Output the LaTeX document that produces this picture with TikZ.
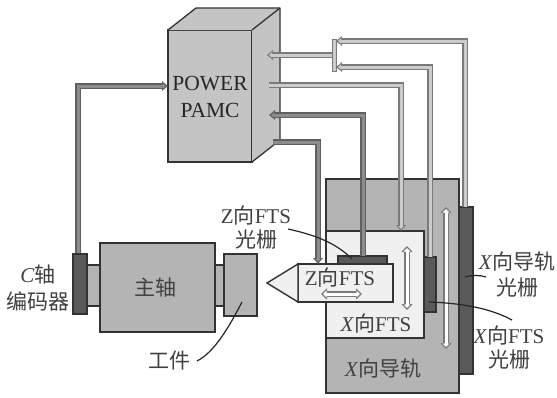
\documentclass[tikz,border=0pt]{standalone}
\usepackage{fontspec}
\setmainfont{Liberation Serif}
\newfontfamily\cjk{Noto Sans CJK SC}
\usetikzlibrary{arrows.meta}
\definecolor{railgray}{HTML}{B4B4B4}
\definecolor{boxgray}{HTML}{C4C4C4}
\definecolor{panel}{HTML}{F0F0F0}
\definecolor{scale}{HTML}{5A5A5A}
\definecolor{inkgray}{HTML}{404040}
\definecolor{pipeedge}{HTML}{7A7A7A}
\definecolor{pipelight}{HTML}{CCCCCC}
\definecolor{pipedarkedge}{HTML}{606060}
\definecolor{pipedark}{HTML}{8C8C8C}
\tikzset{
  part/.style={draw=black!80,line width=1.4pt,inner sep=0pt,outer sep=0pt},
  rail/.style={part,fill=railgray},
  fts/.style={part,fill=panel},
  gratingbar/.style={part,fill=scale},
  lab/.style={text=inkgray,font=\fontsize{21}{21}\selectfont,inner sep=0pt},
  leader/.style={draw=black!85,line width=1.2pt},
}
\newcommand\bx[6]{%
  \pgfmathsetmacro\bw{#4-#2}\pgfmathsetmacro\bh{#5-#3}%
  \pgfmathsetmacro\bcx{(#2+#4)/2}\pgfmathsetmacro\bcy{(#3+#5)/2}%
  \node[#6,minimum width=\bw pt,minimum height=\bh pt] (#1) at (\bcx,\bcy) {};}
\newcommand\pipe[5]{%
  \draw[#3,line width=5.5pt,line join=miter,#1] #5;
  \draw[#4,line width=3pt,line join=miter,#2] #5;}
\newcommand\lightarrow[1]{\pipe{-{Triangle[length=6pt,width=9.5pt]}}{-{Triangle[length=3pt,width=5pt]},shorten >=2pt}{pipeedge}{pipelight}{#1}}
\newcommand\darkarrow[1]{\pipe{-{Triangle[length=6pt,width=9.5pt]}}{-{Triangle[length=3pt,width=5pt]},shorten >=2pt}{pipedarkedge}{pipedark}{#1}}
\newcommand\whitearrow[1]{\pipe{{Triangle[length=6pt,width=11pt]}-{Triangle[length=6pt,width=11pt]}}{{Triangle[length=3.5pt,width=6.5pt]}-{Triangle[length=3.5pt,width=6.5pt]},shorten >=2pt,shorten <=2pt}{pipeedge}{white}{#1}}
\begin{document}
\begin{tikzpicture}[x=1pt,y=-1pt]
\useasboundingbox[fill=white] (0,0) rectangle (557,397);
% PAMC box
\bx{pamc}{168}{30}{252}{162}{part,fill=boxgray}
\coordinate (topback) at (196,8);
\coordinate (topright) at (280,8);
\coordinate (sideb) at (280,140);
\fill[boxgray] (pamc.north west) -- (topback) -- (topright) -- (pamc.north east) -- cycle;
\fill[boxgray] (pamc.north east) -- (topright) -- (sideb) -- (pamc.south east) -- cycle;
\draw[draw=black!80,line width=1.3pt,line join=round] (pamc.north west) -- (topback) -- (topright) -- (sideb) -- (pamc.south east);
\draw[draw=black!80,line width=1.3pt] (pamc.north east) -- (topright);
\node[lab,align=center,text=black!85,font=\fontsize{21.5}{27}\selectfont] (pamctext) at (210,97) {POWER\\PAMC};
% rail and parts
\bx{xscale}{459}{207}{473}{374}{gratingbar}
\bx{xrail}{326}{179}{459}{393}{rail}
\bx{xftsscale}{424}{257}{436}{312}{gratingbar}
\bx{xfts}{326}{231}{424}{338}{fts}
\bx{zscale}{338}{256}{387}{264}{gratingbar}
\bx{zfts}{298}{264}{393}{302}{fts}
\coordinate (tooltip) at (267,283);
\draw[fill=panel,draw=black!80,line width=1.4pt,line join=miter] (zfts.north west) -- (tooltip) -- (zfts.south west) -- cycle;
% spindle
\bx{stubl}{87}{265}{100}{306}{rail}
\bx{stubr}{215}{265}{224}{306}{rail}
\bx{spindle}{100}{243}{215}{332}{rail}
\bx{work}{224}{254}{257}{316}{rail}
\bx{encoder}{73}{254}{87}{314}{gratingbar}
% ports
\coordinate (pwin) at (168,86);
\coordinate (enctop) at (78,253);
\coordinate (portA) at (267,55);
\coordinate (portB) at (269,85);
\coordinate (portC) at (269,115);
\coordinate (portD) at (273,142);
\bx{bracket}{332}{39}{336}{71}{draw=pipeedge,fill=pipelight,line width=1pt,inner sep=0pt,outer sep=0pt}
\coordinate (b1) at (336,41);
\coordinate (b2) at (336,67);
% connectors
\darkarrow{(enctop) -- (78,86) -- (pwin)}
\lightarrow{(465,207) -- (465,41) -- (b1)}
\lightarrow{(430,257) -- (430,67) -- (b2)}
\lightarrow{(bracket.west) -- (portA)}
\lightarrow{(portB) -- (401,85) -- (401,231)}
\darkarrow{(363,256) -- (363,115) -- (portC)}
\darkarrow{(portD) -- (318,142) -- (318,264)}
% motion arrows
\whitearrow{(446,207) -- (446,349)}
\whitearrow{(407,246) -- (407,310)}
\whitearrow{(321,294) -- (362,294)}
% labels
\node[lab] (lc) at (38,275) {\textit{C}{\cjk 轴}};
\node[lab] (lenc) at (38,301) {\cjk 编码器};
\node[lab] (lspindle) at (155,288) {\cjk 主轴};
\node[lab] (lwork) at (169,361) {\cjk 工件};
\node[lab] (lz1) at (256,215) {Z{\cjk 向}FTS};
\node[lab] (lz2) at (256,240) {\cjk 光栅};
\node[lab] (lzin) at (340,277) {Z{\cjk 向}FTS};
\node[lab] (lxin) at (376,323) {\textit{X}{\cjk 向}FTS};
\node[lab] (lrail) at (383,369) {\textit{X}{\cjk 向导轨}};
\node[lab] (lr1) at (517,262) {\textit{X}{\cjk 向导轨}};
\node[lab] (lr2) at (517,288) {\cjk 光栅};
\node[lab] (lf1) at (509,335) {\textit{X}{\cjk 向}FTS};
\node[lab] (lf2) at (509,360) {\cjk 光栅};
% leaders
\coordinate (lzstart) at (288,229);
\coordinate (lzend) at (352,259);
\draw[leader] (lzstart) .. controls (320,236) and (338,245) .. (lzend);
\coordinate (lrstart) at (465,277);
\coordinate (lrend) at (486,277);
\draw[leader] (lrstart) .. controls (472,275) and (480,275) .. (lrend);
\coordinate (lfstart) at (429,302);
\coordinate (lfend) at (512,320);
\draw[leader] (lfstart) .. controls (460,303) and (490,308) .. (lfend);
\coordinate (lwstart) at (242,302);
\coordinate (lwend) at (197,361);
\draw[leader] (lwstart) .. controls (230,325) and (215,352) .. (lwend);
\end{tikzpicture}
\end{document}
